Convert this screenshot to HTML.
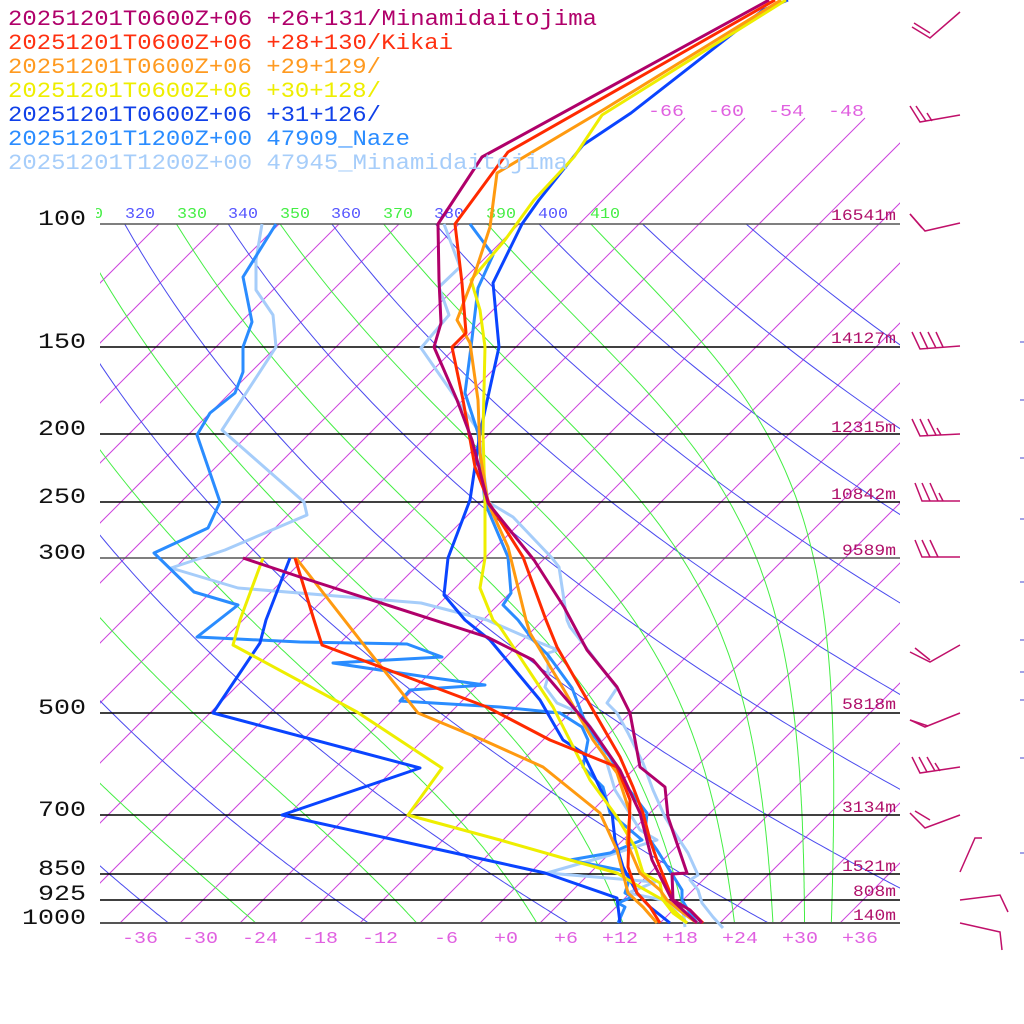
<!DOCTYPE html>
<html><head><meta charset="utf-8">
<style>
html,body{margin:0;padding:0;background:#fff;}
svg{display:block;}
.mono{font-family:"Liberation Mono",monospace;}
.sans{font-family:"Liberation Sans",sans-serif;}
</style></head>
<body>
<svg id="s" width="1024" height="1024" viewBox="0 0 1024 1024" xmlns="http://www.w3.org/2000/svg">
<defs>
<clipPath id="plot"><rect x="100" y="224" width="800" height="699"/></clipPath>
<clipPath id="upper"><rect x="100" y="110" width="800" height="813"/></clipPath>
<clipPath id="lab"><rect x="96" y="190" width="820" height="40"/></clipPath>
</defs>
<g id="grid"></g>
<g id="hl" stroke="#000" stroke-width="1.4">
<line x1="100" y1="224" x2="900" y2="224" stroke="#555"/>
<line x1="100" y1="347" x2="900" y2="347"/>
<line x1="100" y1="434" x2="900" y2="434"/>
<line x1="100" y1="502" x2="900" y2="502"/>
<line x1="100" y1="558" x2="900" y2="558" stroke="#555"/>
<line x1="100" y1="713" x2="900" y2="713"/>
<line x1="100" y1="815" x2="900" y2="815"/>
<line x1="100" y1="874" x2="900" y2="874"/>
<line x1="100" y1="900" x2="900" y2="900"/>
<line x1="100" y1="923" x2="900" y2="923" stroke="#555" stroke-width="2"/>
</g>
<g class="mono" font-size="22" fill="#111" text-anchor="end" lengthAdjust="spacingAndGlyphs">
<text x="86" y="225" textLength="48" lengthAdjust="spacingAndGlyphs">100</text>
<text x="86" y="348" textLength="48" lengthAdjust="spacingAndGlyphs">150</text>
<text x="86" y="435" textLength="48" lengthAdjust="spacingAndGlyphs">200</text>
<text x="86" y="503" textLength="48" lengthAdjust="spacingAndGlyphs">250</text>
<text x="86" y="559" textLength="48" lengthAdjust="spacingAndGlyphs">300</text>
<text x="86" y="714" textLength="48" lengthAdjust="spacingAndGlyphs">500</text>
<text x="86" y="816" textLength="48" lengthAdjust="spacingAndGlyphs">700</text>
<text x="86" y="875" textLength="48" lengthAdjust="spacingAndGlyphs">850</text>
<text x="86" y="900" textLength="48" lengthAdjust="spacingAndGlyphs">925</text>
<text x="86" y="924" textLength="64" lengthAdjust="spacingAndGlyphs">1000</text>
</g>
<g class="mono" font-size="16" fill="#b0106a" text-anchor="end">
<text x="896" y="220" textLength="65" lengthAdjust="spacingAndGlyphs">16541m</text>
<text x="896" y="343" textLength="65" lengthAdjust="spacingAndGlyphs">14127m</text>
<text x="896" y="432" textLength="65" lengthAdjust="spacingAndGlyphs">12315m</text>
<text x="896" y="499" textLength="65" lengthAdjust="spacingAndGlyphs">10842m</text>
<text x="896" y="555" textLength="54" lengthAdjust="spacingAndGlyphs">9589m</text>
<text x="896" y="709" textLength="54" lengthAdjust="spacingAndGlyphs">5818m</text>
<text x="896" y="812" textLength="54" lengthAdjust="spacingAndGlyphs">3134m</text>
<text x="896" y="871" textLength="54" lengthAdjust="spacingAndGlyphs">1521m</text>
<text x="896" y="896" textLength="43" lengthAdjust="spacingAndGlyphs">808m</text>
<text x="896" y="920" textLength="43" lengthAdjust="spacingAndGlyphs">140m</text>
</g>
<g class="mono" font-size="17" fill="#e060e0" text-anchor="middle">
<text x="140" y="943" textLength="36" lengthAdjust="spacingAndGlyphs">-36</text>
<text x="200" y="943" textLength="36" lengthAdjust="spacingAndGlyphs">-30</text>
<text x="260" y="943" textLength="36" lengthAdjust="spacingAndGlyphs">-24</text>
<text x="320" y="943" textLength="36" lengthAdjust="spacingAndGlyphs">-18</text>
<text x="380" y="943" textLength="36" lengthAdjust="spacingAndGlyphs">-12</text>
<text x="446" y="943" textLength="24" lengthAdjust="spacingAndGlyphs">-6</text>
<text x="506" y="943" textLength="24" lengthAdjust="spacingAndGlyphs">+0</text>
<text x="566" y="943" textLength="24" lengthAdjust="spacingAndGlyphs">+6</text>
<text x="620" y="943" textLength="36" lengthAdjust="spacingAndGlyphs">+12</text>
<text x="680" y="943" textLength="36" lengthAdjust="spacingAndGlyphs">+18</text>
<text x="740" y="943" textLength="36" lengthAdjust="spacingAndGlyphs">+24</text>
<text x="800" y="943" textLength="36" lengthAdjust="spacingAndGlyphs">+30</text>
<text x="860" y="943" textLength="36" lengthAdjust="spacingAndGlyphs">+36</text>
</g>
<g class="mono" font-size="17" fill="#e060e0" text-anchor="middle">
<text x="666" y="116" textLength="36" lengthAdjust="spacingAndGlyphs">-66</text>
<text x="726" y="116" textLength="36" lengthAdjust="spacingAndGlyphs">-60</text>
<text x="786" y="116" textLength="36" lengthAdjust="spacingAndGlyphs">-54</text>
<text x="846" y="116" textLength="36" lengthAdjust="spacingAndGlyphs">-48</text>
</g>
<g class="mono" font-size="15" text-anchor="middle" clip-path="url(#lab)">
<text x="88" y="218" fill="#44ee44" textLength="30" lengthAdjust="spacingAndGlyphs">310</text>
<text x="140" y="218" fill="#5555ff" textLength="30" lengthAdjust="spacingAndGlyphs">320</text>
<text x="192" y="218" fill="#44ee44" textLength="30" lengthAdjust="spacingAndGlyphs">330</text>
<text x="243" y="218" fill="#5555ff" textLength="30" lengthAdjust="spacingAndGlyphs">340</text>
<text x="295" y="218" fill="#44ee44" textLength="30" lengthAdjust="spacingAndGlyphs">350</text>
<text x="346" y="218" fill="#5555ff" textLength="30" lengthAdjust="spacingAndGlyphs">360</text>
<text x="398" y="218" fill="#44ee44" textLength="30" lengthAdjust="spacingAndGlyphs">370</text>
<text x="449" y="218" fill="#5555ff" textLength="30" lengthAdjust="spacingAndGlyphs">380</text>
<text x="501" y="218" fill="#44ee44" textLength="30" lengthAdjust="spacingAndGlyphs">390</text>
<text x="553" y="218" fill="#5555ff" textLength="30" lengthAdjust="spacingAndGlyphs">400</text>
<text x="605" y="218" fill="#44ee44" textLength="30" lengthAdjust="spacingAndGlyphs">410</text>
</g>
<g id="snd" fill="none" stroke-width="3" stroke-linejoin="round"></g>
<g class="mono" font-size="22">
<text x="8" y="25" fill="#b0006a" textLength="589" lengthAdjust="spacingAndGlyphs">20251201T0600Z+06 +26+131/Minamidaitojima</text>
<text x="8" y="49" fill="#ff3010" textLength="445" lengthAdjust="spacingAndGlyphs">20251201T0600Z+06 +28+130/Kikai</text>
<text x="8" y="73" fill="#ff9a20" textLength="373" lengthAdjust="spacingAndGlyphs">20251201T0600Z+06 +29+129/</text>
<text x="8" y="97" fill="#eeee00" textLength="373" lengthAdjust="spacingAndGlyphs">20251201T0600Z+06 +30+128/</text>
<text x="8" y="121" fill="#1040e8" textLength="373" lengthAdjust="spacingAndGlyphs">20251201T0600Z+06 +31+126/</text>
<text x="8" y="145" fill="#2a8cff" textLength="402" lengthAdjust="spacingAndGlyphs">20251201T1200Z+00 47909_Naze</text>
<text x="8" y="169" fill="#a6cdfa" textLength="560" lengthAdjust="spacingAndGlyphs">20251201T1200Z+00 47945_Minamidaitojima</text>
</g>
<g fill="none" stroke="#c0106a" stroke-width="1.5">
<polyline points="912,27 930,38 960,12"/><line x1="914" y1="23" x2="930" y2="33"/>
<polyline points="910,106 920,122 960,115"/><line x1="916" y1="106" x2="926" y2="121"/><line x1="927" y1="113" x2="932" y2="121"/>
<polyline points="910,214 925,231 960,223"/><line x1="910" y1="214" x2="922" y2="228"/>
<polyline points="912,332 920,349 960,346"/><line x1="920" y1="332" x2="928" y2="349"/><line x1="928" y1="332" x2="936" y2="348"/><line x1="936" y1="332" x2="943" y2="347"/>
<polyline points="912,419 920,436 960,434"/><line x1="920" y1="419" x2="928" y2="436"/><line x1="928" y1="419" x2="936" y2="435"/><line x1="937" y1="428" x2="941" y2="435"/>
<polyline points="915,483 922,501 960,501"/><line x1="922" y1="483" x2="930" y2="501"/><line x1="930" y1="483" x2="938" y2="501"/><line x1="939" y1="493" x2="943" y2="501"/>
<polyline points="915,540 922,557 960,557"/><line x1="922" y1="540" x2="930" y2="557"/><line x1="930" y1="540" x2="938" y2="557"/>
<polyline points="910,652 930,662 960,645"/><line x1="915" y1="648" x2="930" y2="660"/>
<polyline points="910,720 925,727 960,713"/><line x1="910" y1="720" x2="928" y2="726"/>
<polyline points="912,757 920,773 960,767"/><line x1="919" y1="757" x2="927" y2="772"/><line x1="927" y1="757" x2="935" y2="771"/><line x1="935" y1="763" x2="940" y2="771"/>
<polyline points="910,813 925,828 960,815"/><line x1="915" y1="811" x2="930" y2="820"/>
<polyline points="960,872 975,838 982,838"/>
<polyline points="960,900 1000,895 1008,912"/>
<polyline points="960,923 1000,932 1002,950"/>
</g>
<g stroke="#4444cc" stroke-width="1">
<line x1="1020" y1="342" x2="1024" y2="342"/><line x1="1020" y1="400" x2="1024" y2="400"/>
<line x1="1020" y1="458" x2="1024" y2="458"/><line x1="1020" y1="519" x2="1024" y2="519"/>
<line x1="1020" y1="582" x2="1024" y2="582"/><line x1="1020" y1="640" x2="1024" y2="640"/>
<line x1="1020" y1="672" x2="1024" y2="672"/><line x1="1020" y1="700" x2="1024" y2="700"/>
<line x1="1020" y1="758" x2="1024" y2="758"/><line x1="1020" y1="853" x2="1024" y2="853"/>
</g>
</svg>
<script>
(function(){
var NS="http://www.w3.org/2000/svg";
function Y(p){return 923-303.5*Math.log(1000/p);}
function X(T,y){return 500+10*T+(923-y);}
var g=document.getElementById('grid');
function pl(pts,col,clip,w){var e=document.createElementNS(NS,'polyline');
 e.setAttribute('points',pts.map(function(q){return q[0].toFixed(1)+','+q[1].toFixed(1);}).join(' '));
 e.setAttribute('fill','none');e.setAttribute('stroke',col);e.setAttribute('stroke-width',w||1);
 if(clip)e.setAttribute('clip-path','url(#'+clip+')');return e;}
for(var T=-200;T<=60;T+=6){
 var ytop=(T>=-66)?118:224;
 g.appendChild(pl([[X(T,923),923],[X(T,ytop),ytop]],'#cc44dd','upper'));
}
for(var th=200;th<=440;th+=20){
 var pts=[];for(var p=100;p<=1000;p+=5){var y=Y(p);var t=th*Math.pow(p/1000,0.2857)-273.15;pts.push([X(t,y),y]);}
 g.appendChild(pl(pts,'#4a4aee','plot'));
}
var Rd=287.04,cp=1005.7,Lv=2.501e6,eps=0.622;
function es(Tk){var c=Tk-273.15;return 6.112*Math.exp(17.67*c/(c+243.5));}
for(var th=250;th<=410;th+=20){
 var Tk=th*Math.pow(0.1,0.2857);var pts=[];var p=100;
 pts.push([X(Tk-273.15,Y(p)),Y(p)]);
 while(p<1000){var dp=1;var e=es(Tk);var rs=eps*e/(p-e);
  var d=(Rd*Tk+Lv*rs)/(p*(cp+Lv*Lv*rs*eps/(Rd*Tk*Tk)));Tk+=d*dp;p+=dp;
  if(p%5==0)pts.push([X(Tk-273.15,Y(p)),Y(p)]);}
 g.appendChild(pl(pts,'#44ee44','plot'));
}
var S=document.getElementById('snd');
var data=[
['#a6cdfa',[[444,224],[460,267],[439,287],[449,315],[421,348],[478,430],[488,502],[513,517],[552,558],[559,567],[567,620],[570,627],[588,650],[617,688],[607,703],[617,713],[628,733],[643,763],[653,790],[665,817],[673,830],[688,853],[698,875],[690,880],[698,890],[702,903],[713,917],[723,928]]],
['#a6cdfa',[[262,224],[256,260],[256,290],[273,315],[276,347],[222,430],[304,502],[307,515],[225,550],[171,568],[238,588],[421,603],[487,620],[533,640],[558,650],[548,653],[548,677],[545,687],[557,703],[580,713],[600,740],[615,790],[640,830],[657,840],[610,855],[547,873],[655,882],[628,893],[663,900],[683,913],[685,927]]],
['#2a8cff',[[470,224],[493,255],[478,288],[471,347],[465,393],[478,433],[485,503],[508,557],[511,593],[503,605],[518,620],[533,640],[548,655],[572,688],[587,727],[610,757],[627,787],[647,813],[645,833],[657,850],[682,890],[682,900],[690,913],[697,923]]],
['#2a8cff',[[276,224],[243,277],[252,322],[243,347],[243,372],[235,393],[210,413],[197,435],[220,502],[208,528],[154,553],[194,592],[238,605],[197,637],[300,642],[407,644],[442,657],[333,663],[427,677],[485,685],[410,690],[400,701],[500,707],[560,713],[582,727],[588,740],[583,767],[603,787],[610,813],[642,840],[610,853],[570,860],[620,870],[630,877],[625,893],[632,897],[618,903],[625,907],[618,923]]],
['#0a44ff',[[788,0],[763,10],[631,113],[583,145],[539,200],[522,224],[493,283],[499,347],[480,433],[470,500],[448,558],[444,595],[465,620],[490,640],[540,700],[563,740],[583,753],[612,813],[615,840],[623,867],[637,893],[650,907],[670,923]]],
['#0a44ff',[[290,558],[266,620],[260,643],[213,713],[420,768],[282,815],[500,863],[545,873],[617,898],[620,923]]],
['#eeee00',[[786,0],[602,115],[574,157],[534,200],[505,240],[471,280],[480,310],[485,347],[483,433],[485,500],[485,558],[480,588],[493,620],[500,627],[553,707],[590,780],[617,817],[635,847],[643,873],[660,883],[663,900],[673,913],[687,923]]],
['#eeee00',[[263,558],[240,620],[233,645],[357,712],[442,768],[408,815],[500,840],[570,860],[617,873],[640,887],[663,900],[687,923]]],
['#ff9a10',[[781,0],[603,110],[497,173],[490,227],[475,273],[457,320],[470,343],[478,400],[480,453],[488,503],[508,547],[526,620],[530,633],[560,683],[593,740],[617,773],[630,813],[627,843],[640,873],[660,890],[667,900],[683,913],[697,923]]],
['#ff9a10',[[296,558],[360,640],[418,713],[483,740],[543,767],[600,813],[617,850],[628,893],[643,907],[657,923]]],
['#ff2a00',[[775,0],[508,152],[455,224],[462,283],[466,333],[452,347],[463,400],[475,467],[489,503],[523,557],[546,620],[557,647],[593,710],[620,757],[633,787],[643,813],[650,840],[657,860],[673,900],[690,910],[703,923]]],
['#ff2a00',[[295,558],[314,620],[322,645],[487,707],[550,740],[617,767],[630,800],[628,867],[637,893],[650,907],[660,923]]],
['#b0006a',[[769,0],[482,157],[438,224],[439,280],[441,323],[434,347],[457,400],[472,440],[488,503],[534,560],[564,607],[587,650],[617,687],[630,713],[640,767],[665,787],[668,817],[687,873],[672,874],[673,900],[690,910],[702,923]]],
['#b0006a',[[243,558],[300,577],[487,637],[533,660],[590,727],[620,770],[640,813],[652,860],[672,900],[697,923]]]
];
data.forEach(function(d){S.appendChild(pl(d[1],d[0],null,3));});
})();
</script>
</body></html>
